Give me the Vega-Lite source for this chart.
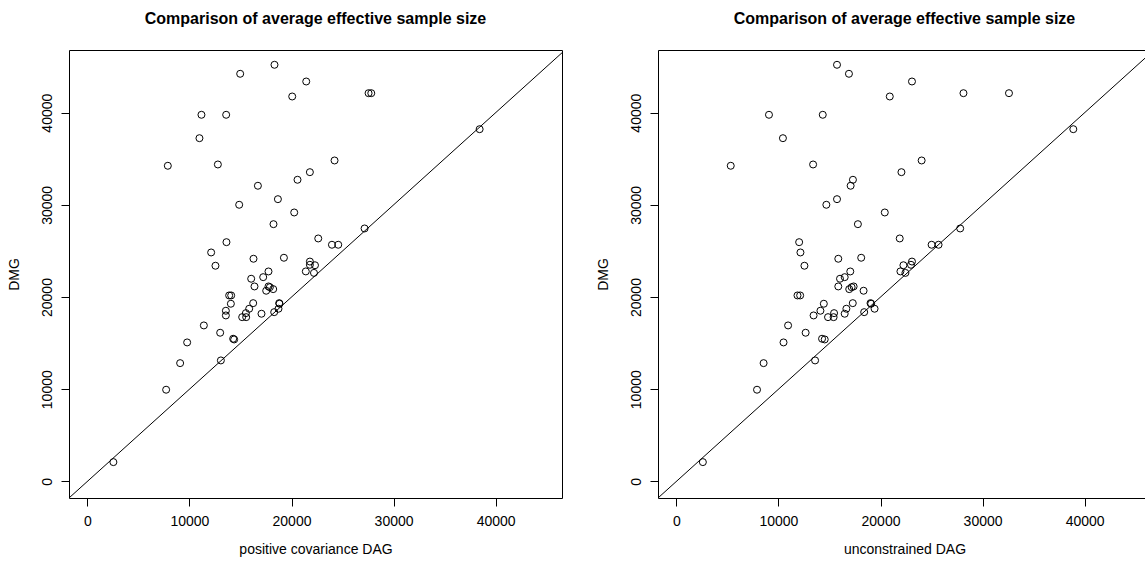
{
  "$schema": "https://vega.github.io/schema/vega-lite/v6.json",
  "background": "white",
  "padding": {"left": 6, "top": 10, "right": 0, "bottom": 0},
  "bounds": "flush",
  "spacing": 96,
  "config": {
    "font": "Liberation Sans",
    "view": {"stroke": "black", "strokeWidth": 1},
    "axis": {"domain": false, "grid": false, "ticks": true, "tickColor": "black", "tickSize": 8, "tickWidth": 1, "labelColor": "black", "labelFont": "Liberation Sans", "labelFontSize": 14, "titleFont": "Liberation Sans", "titleFontSize": 14, "titleFontWeight": "normal", "titleColor": "black", "labelFlush": false, "labelOverlap": false},
    "axisX": {"labelPadding": 8, "titlePadding": 14},
    "axisY": {"labelAngle": -90, "labelAlign": "center", "labelBaseline": "bottom", "labelPadding": 7, "titlePadding": 19},
    "title": {"font": "Liberation Sans", "fontSize": 16, "fontWeight": "bold", "color": "black", "offset": 23, "anchor": "middle", "frame": "group"}
  },
  "datasets": {
    "diag": [{"v": -10000}, {"v": 60000}],
    "ess": [
      {"posDAG": 18333, "uncDAG": 15737, "DMG": 45195},
      {"posDAG": 14971, "uncDAG": 16907, "DMG": 44219},
      {"posDAG": 21441, "uncDAG": 23083, "DMG": 43384},
      {"posDAG": 20069, "uncDAG": 20907, "DMG": 41757},
      {"posDAG": 27549, "uncDAG": 28127, "DMG": 42115},
      {"posDAG": 27814, "uncDAG": 32585, "DMG": 42115},
      {"posDAG": 11176, "uncDAG": 9073, "DMG": 39772},
      {"posDAG": 13598, "uncDAG": 14341, "DMG": 39772},
      {"posDAG": 38431, "uncDAG": 38888, "DMG": 38211},
      {"posDAG": 10980, "uncDAG": 10439, "DMG": 37234},
      {"posDAG": 24216, "uncDAG": 24029, "DMG": 34816},
      {"posDAG": 7882, "uncDAG": 5327, "DMG": 34241},
      {"posDAG": 12784, "uncDAG": 13395, "DMG": 34382},
      {"posDAG": 21800, "uncDAG": 22049, "DMG": 33547},
      {"posDAG": 20588, "uncDAG": 17298, "DMG": 32722},
      {"posDAG": 16706, "uncDAG": 17073, "DMG": 32072},
      {"posDAG": 18667, "uncDAG": 15737, "DMG": 30618},
      {"posDAG": 14873, "uncDAG": 14693, "DMG": 30010},
      {"posDAG": 20265, "uncDAG": 20419, "DMG": 29175},
      {"posDAG": 18235, "uncDAG": 17785, "DMG": 27907},
      {"posDAG": 27157, "uncDAG": 27805, "DMG": 27440},
      {"posDAG": 22618, "uncDAG": 21883, "DMG": 26356},
      {"posDAG": 13627, "uncDAG": 12029, "DMG": 25954},
      {"posDAG": 23961, "uncDAG": 25005, "DMG": 25672},
      {"posDAG": 24578, "uncDAG": 25688, "DMG": 25672},
      {"posDAG": 12127, "uncDAG": 12156, "DMG": 24837},
      {"posDAG": 16275, "uncDAG": 15863, "DMG": 24154},
      {"posDAG": 19255, "uncDAG": 18107, "DMG": 24262},
      {"posDAG": 12549, "uncDAG": 12546, "DMG": 23395},
      {"posDAG": 21800, "uncDAG": 23083, "DMG": 23850},
      {"posDAG": 21800, "uncDAG": 22985, "DMG": 23500},
      {"posDAG": 22300, "uncDAG": 22244, "DMG": 23450},
      {"posDAG": 21400, "uncDAG": 21951, "DMG": 22780},
      {"posDAG": 22200, "uncDAG": 22440, "DMG": 22620},
      {"posDAG": 16049, "uncDAG": 16032, "DMG": 21985},
      {"posDAG": 17225, "uncDAG": 16491, "DMG": 22158},
      {"posDAG": 17745, "uncDAG": 17038, "DMG": 22776},
      {"posDAG": 16373, "uncDAG": 15863, "DMG": 21150},
      {"posDAG": 17520, "uncDAG": 18342, "DMG": 20683},
      {"posDAG": 17745, "uncDAG": 17365, "DMG": 21150},
      {"posDAG": 17879, "uncDAG": 17170, "DMG": 21070},
      {"posDAG": 18206, "uncDAG": 16936, "DMG": 20860},
      {"posDAG": 13892, "uncDAG": 11866, "DMG": 20174},
      {"posDAG": 14088, "uncDAG": 12127, "DMG": 20174},
      {"posDAG": 14059, "uncDAG": 14446, "DMG": 19273},
      {"posDAG": 16245, "uncDAG": 17283, "DMG": 19338},
      {"posDAG": 15853, "uncDAG": 16656, "DMG": 18731},
      {"posDAG": 15529, "uncDAG": 15450, "DMG": 18254},
      {"posDAG": 15167, "uncDAG": 14857, "DMG": 17820},
      {"posDAG": 15559, "uncDAG": 15404, "DMG": 17820},
      {"posDAG": 13569, "uncDAG": 14114, "DMG": 18514},
      {"posDAG": 13569, "uncDAG": 13443, "DMG": 18004},
      {"posDAG": 17059, "uncDAG": 16491, "DMG": 18189},
      {"posDAG": 18304, "uncDAG": 18400, "DMG": 18362},
      {"posDAG": 18725, "uncDAG": 19418, "DMG": 18731},
      {"posDAG": 18794, "uncDAG": 19022, "DMG": 19338},
      {"posDAG": 18824, "uncDAG": 19085, "DMG": 19273},
      {"posDAG": 11412, "uncDAG": 10944, "DMG": 16920},
      {"posDAG": 13010, "uncDAG": 12664, "DMG": 16128},
      {"posDAG": 14284, "uncDAG": 14273, "DMG": 15477},
      {"posDAG": 14382, "uncDAG": 14534, "DMG": 15401},
      {"posDAG": 9775, "uncDAG": 10498, "DMG": 15076},
      {"posDAG": 9088, "uncDAG": 8546, "DMG": 12831},
      {"posDAG": 13078, "uncDAG": 13590, "DMG": 13124},
      {"posDAG": 7716, "uncDAG": 7902, "DMG": 9946},
      {"posDAG": 2549, "uncDAG": 2595, "DMG": 2093}
    ]
  },
  "hconcat": [
    {
      "width": 493,
      "height": 448,
      "title": "Comparison of average effective sample size",
      "layer": [
        {
          "data": {"name": "diag"},
          "mark": {"type": "line", "color": "black", "strokeWidth": 1, "clip": true},
          "encoding": {
            "x": {"field": "v", "type": "quantitative", "title": "positive covariance DAG", "scale": {"domain": [-1800, 46500], "nice": false, "zero": false}, "axis": {"values": [0, 10000, 20000, 30000, 40000], "format": "d"}},
            "y": {"field": "v", "type": "quantitative", "title": "DMG", "scale": {"domain": [-1800, 46800], "nice": false, "zero": false}, "axis": {"values": [0, 10000, 20000, 30000, 40000], "format": "d"}}
          }
        },
        {
          "data": {"name": "ess"},
          "mark": {"type": "point", "shape": "circle", "filled": false, "color": "black", "size": 49, "strokeWidth": 1, "opacity": 1},
          "encoding": {
            "x": {"field": "posDAG", "type": "quantitative", "title": "positive covariance DAG"},
            "y": {"field": "DMG", "type": "quantitative", "title": "DMG"}
          }
        }
      ]
    },
    {
      "width": 493,
      "height": 448,
      "title": "Comparison of average effective sample size",
      "layer": [
        {
          "data": {"name": "diag"},
          "mark": {"type": "line", "color": "black", "strokeWidth": 1, "clip": true},
          "encoding": {
            "x": {"field": "v", "type": "quantitative", "title": "unconstrained DAG", "scale": {"domain": [-1800, 46500], "nice": false, "zero": false}, "axis": {"values": [0, 10000, 20000, 30000, 40000], "format": "d"}},
            "y": {"field": "v", "type": "quantitative", "title": "DMG", "scale": {"domain": [-1800, 46800], "nice": false, "zero": false}, "axis": {"values": [0, 10000, 20000, 30000, 40000], "format": "d"}}
          }
        },
        {
          "data": {"name": "ess"},
          "mark": {"type": "point", "shape": "circle", "filled": false, "color": "black", "size": 49, "strokeWidth": 1, "opacity": 1},
          "encoding": {
            "x": {"field": "uncDAG", "type": "quantitative", "title": "unconstrained DAG"},
            "y": {"field": "DMG", "type": "quantitative", "title": "DMG"}
          }
        }
      ]
    }
  ]
}
